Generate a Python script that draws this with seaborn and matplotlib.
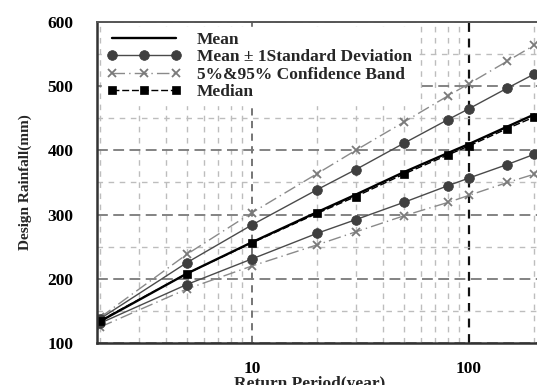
import numpy as np
import pandas as pd
import matplotlib
matplotlib.use("Agg")
import matplotlib.pyplot as plt
import matplotlib.ticker as mticker
import seaborn as sns

# Return periods (years) and design rainfall estimates (mm)
return_period = [2, 5, 10, 20, 30, 50, 80, 100, 150, 200]
mean_rain = [134, 208, 257, 304, 331, 366, 396, 410, 437, 456]
median_rain = [135, 208, 256, 302, 328, 363, 393, 407, 434, 452]
sd_upper = [138, 225, 284, 339, 370, 411, 448, 465, 497, 519]
sd_lower = [131, 191, 231, 271, 292, 319, 345, 357, 378, 394]
ci_upper = [140, 238, 303, 364, 400, 444, 485, 504, 539, 564]
ci_lower = [125, 184, 220, 253, 273, 298, 319, 330, 350, 363]

y_ticks = [100, 200, 300, 400, 500, 600]
x_tick_labels = ["10", "100"]

sns.set_style("white")
plt.rcParams["font.family"] = ["Liberation Serif", "DejaVu Serif"]
plt.rcParams["font.weight"] = "bold"

df = pd.DataFrame({
    "T": return_period, "mean": mean_rain, "median": median_rain,
    "sd_hi": sd_upper, "sd_lo": sd_lower, "ci_hi": ci_upper, "ci_lo": ci_lower,
})

fig = plt.figure(figsize=(5.37, 3.85), dpi=100)
ax = fig.add_axes([0.1806, 0.1091, 1.0 - 0.1806, 0.9429 - 0.1091])
ax.set_xscale("log")

ci_style = dict(color="#8a8a8a", lw=1.0, linestyle=(0, (9, 3, 1, 3)),
                marker="x", markersize=6, markeredgewidth=1.3,
                markeredgecolor="#7a7a7a")
sd_style = dict(color="#4a4a4a", lw=1.0, linestyle="-",
                marker="o", markersize=7, markeredgewidth=0.5,
                markeredgecolor="#3a3a3a", markerfacecolor="#3f3f3f")
med_style = dict(color="black", lw=1.0, linestyle=(0, (5, 2)),
                 marker="s", markersize=6, markeredgewidth=0.5,
                 markeredgecolor="black", markerfacecolor="black")

SD_LABEL = "Mean \u00b1 1Standard Deviation"

sns.lineplot(data=df, x="T", y="ci_hi", ax=ax, label="5%&95% Confidence Band", **ci_style)
sns.lineplot(data=df, x="T", y="ci_lo", ax=ax, label="_nolegend_", **ci_style)
sns.lineplot(data=df, x="T", y="sd_hi", ax=ax, label=SD_LABEL, **sd_style)
sns.lineplot(data=df, x="T", y="sd_lo", ax=ax, label="_nolegend_", **sd_style)
sns.lineplot(data=df, x="T", y="median", ax=ax, label="Median", **med_style)
sns.lineplot(data=df, x="T", y="mean", ax=ax, label="Mean", color="black", lw=1.7)

ax.set_xlim(1.93, 205.6)
ax.set_ylim(100, 600)

# Axis ticks
ax.xaxis.set_major_locator(mticker.FixedLocator([10, 100]))
ax.xaxis.set_major_formatter(mticker.FixedFormatter(x_tick_labels))
ax.xaxis.set_minor_locator(mticker.LogLocator(base=10, subs=np.arange(2, 10)))
ax.xaxis.set_minor_formatter(mticker.NullFormatter())
ax.yaxis.set_major_locator(mticker.FixedLocator(y_ticks))
ax.yaxis.set_minor_locator(mticker.MultipleLocator(50))

ax.tick_params(axis="both", which="major", direction="out", colors="#222222",
               labelcolor="black", labelsize=12.5, width=1.6)
ax.tick_params(axis="y", which="major", length=11, pad=6)
ax.tick_params(axis="y", which="minor", length=6.5, width=1.4, direction="out", colors="#222222")
ax.tick_params(axis="x", which="major", length=9, pad=4)
ax.tick_params(axis="x", which="minor", length=4, width=1.2, direction="out", colors="#222222")
for lab in ax.get_xticklabels() + ax.get_yticklabels():
    lab.set_fontweight("bold")

# Dashed grid
ax.grid(which="minor", axis="both", color="#bdbdbd", lw=1.0, linestyle=(0, (4, 4)))
ax.grid(which="major", axis="y", color="#7a7a7a", lw=1.3, linestyle=(0, (6, 3)))
ax.grid(which="major", axis="x", color="#6a6a6a", lw=1.3, linestyle=(0, (4, 3)))
for tick in ax.xaxis.get_major_ticks():
    if tick.get_loc() == 100:
        tick.gridline.set_color("#111111")
        tick.gridline.set_linewidth(1.6)
ax.set_axisbelow(True)

for side in ["left", "bottom", "top"]:
    ax.spines[side].set_color("#333333")
    ax.spines[side].set_linewidth(1.8)
ax.spines["top"].set_color("#555555")
ax.spines["top"].set_linewidth(1.4)
ax.spines["right"].set_visible(False)

ax.set_xlabel("Return Period(year)", fontsize=12.5, fontweight="bold")
ax.xaxis.set_label_coords(0.484, -0.103, transform=ax.transAxes)
ax.xaxis.label.set_va("top")
ax.set_ylabel("Design Rainfall(mm)", fontsize=11, fontweight="bold")
ax.yaxis.set_label_coords(-0.148, 0.5, transform=ax.transAxes)

handles, labels = ax.get_legend_handles_labels()
order = ["Mean", SD_LABEL, "5%&95% Confidence Band", "Median"]
hmap = dict(zip(labels, handles))
leg = ax.legend([hmap[k] for k in order], order, loc="upper left",
                bbox_to_anchor=(0.0, 1.0), prop=dict(size=12.5, weight="bold"),
                handlelength=4.3, handletextpad=0.9, labelspacing=0.08,
                numpoints=3, frameon=True, facecolor="white", edgecolor="white",
                framealpha=1.0, fancybox=False, borderpad=0.25, borderaxespad=0.3)
leg.set_zorder(5)

fig.savefig("out.png", dpi=100)
